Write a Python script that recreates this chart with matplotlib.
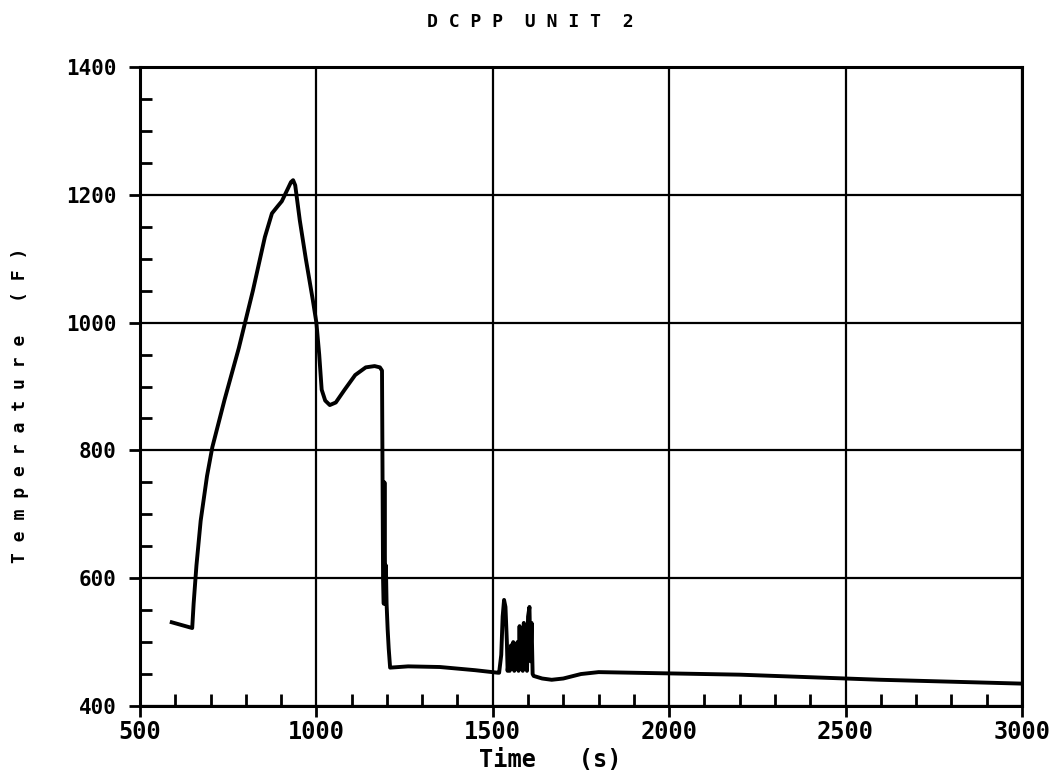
import matplotlib
matplotlib.use("Agg")
import matplotlib.pyplot as plt
from matplotlib.ticker import MultipleLocator

# peak clad temperature trace
time_s = [590, 648, 652, 660, 672, 690, 705, 740, 780, 820, 854, 874, 890,
          902, 915, 928, 934, 940, 953, 970, 990, 1000, 1008, 1015, 1025,
          1038, 1055, 1080, 1110, 1140, 1165, 1180, 1186,
          1189, 1191, 1193, 1195, 1197, 1199, 1202, 1205, 1209,
          1260, 1350, 1450, 1515,
          1518, 1524, 1528, 1532, 1536, 1540, 1542, 1545, 1548, 1552, 1555,
          1558, 1561, 1564, 1567, 1570, 1573, 1576, 1579, 1582, 1585, 1588,
          1591, 1594, 1597, 1600, 1604, 1607, 1610, 1613, 1616,
          1640, 1667, 1700, 1750, 1800, 1900, 2000, 2200, 2400, 2600, 2800,
          3000]
temp_f = [531, 522, 560, 620, 690, 760, 805, 880, 960, 1050, 1134, 1171, 1182,
          1190, 1205, 1220, 1223, 1215, 1160, 1100, 1035, 1000, 950, 895, 878,
          871, 875, 895, 918, 930, 932, 930, 925,
          600, 560, 750, 560, 620, 560, 520, 490, 460,
          462, 461, 456, 452,
          452, 480, 540, 566, 555, 500, 455, 470, 455, 495, 460,
          500, 455, 495, 460, 500, 455, 525, 460, 520, 455, 530,
          460, 500, 455, 540, 555, 470, 530, 450, 447,
          443, 441, 443, 450, 453, 452, 451, 449, 445, 441, 438,
          435]

x_ticks = [500, 1000, 1500, 2000, 2500, 3000]
y_ticks = [400, 600, 800, 1000, 1200, 1400]

mono = "DejaVu Sans Mono"

fig = plt.figure(figsize=(10.59, 7.8), dpi=100)
ax = fig.add_axes([0.1322, 0.0949, 0.8328, 0.8191])

ax.plot(time_s, temp_f, color="black", lw=2.8, solid_joinstyle="round")

ax.set_xlim(500, 3000)
ax.set_ylim(400, 1400)
ax.set_xticks(x_ticks)
ax.set_yticks(y_ticks)
ax.xaxis.set_minor_locator(MultipleLocator(100))
ax.yaxis.set_minor_locator(MultipleLocator(50))
ax.grid(True, which="major", color="black", lw=1.6)

ax.tick_params(which="major", direction="out", length=8, width=2, pad=2)
ax.tick_params(axis="x", which="major", labelsize=17)
ax.tick_params(axis="y", which="major", labelsize=15, pad=9)
ax.tick_params(which="minor", direction="in", length=8.5, width=2)
for lbl in ax.get_xticklabels() + ax.get_yticklabels():
    lbl.set_family(mono)
    lbl.set_fontweight("bold")

for sp in ax.spines.values():
    sp.set_linewidth(2.2)

ax.set_xlabel("Time   (s)", family=mono, fontweight="bold", fontsize=17)
ax.xaxis.set_label_coords(0.465, -0.066)
ax.set_ylabel("T e m p e r a t u r e   ( F )", family=mono,
              fontweight="bold", fontsize=13)
ax.yaxis.set_label_coords(-0.126, 0.471)

fig.text(530 / 1059, 1 - 22 / 780, "D C P P  U N I T  2", family=mono,
         fontweight="bold", fontsize=13, ha="center", va="center")

fig.savefig("out.png", dpi=100)
